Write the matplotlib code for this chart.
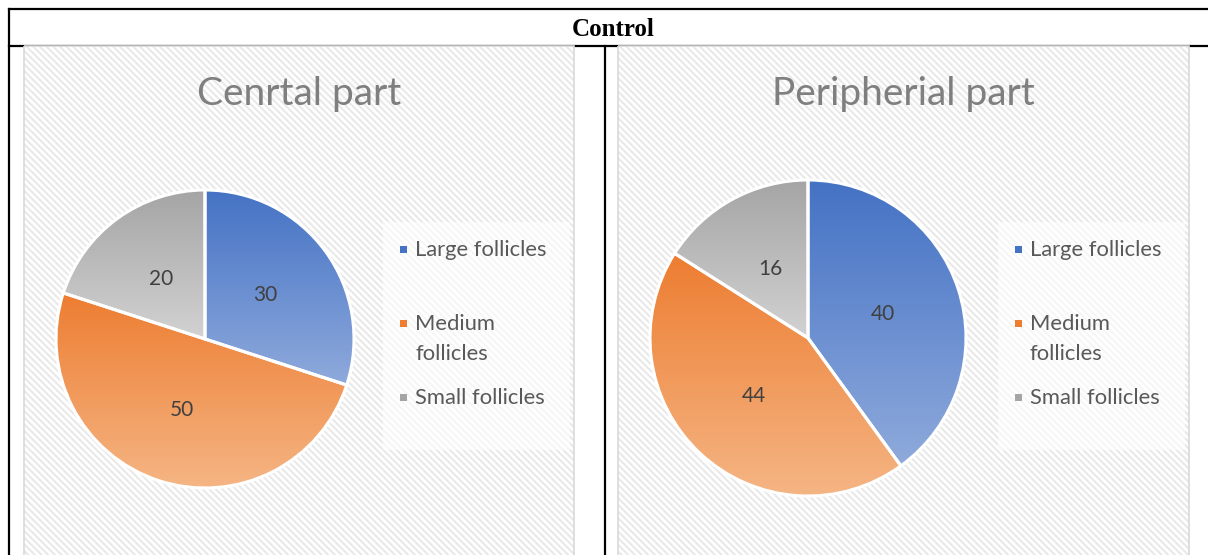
import numpy as np
import matplotlib
matplotlib.use("Agg")
import matplotlib.pyplot as plt
from matplotlib.patches import Rectangle
from matplotlib.colors import to_rgb

# data
categories = ["Large follicles", "Medium\nfollicles", "Small follicles"]
central = [30, 50, 20]
peripheral = [40, 44, 16]
titles = ["Cenrtal part", "Peripherial part"]
header = "Control"

top_colors = ["#4472C4", "#ED7D31", "#A5A5A5"]
bottom_colors = ["#8FAADC", "#F5B584", "#D2D2D2"]

W, H = 1208, 555
plt.rcParams["hatch.linewidth"] = 1.4
fig = plt.figure(figsize=(W / 100, H / 100), dpi=100)

bg = fig.add_axes([0, 0, 1, 1])
bg.set_xlim(0, W)
bg.set_ylim(H, 0)
bg.axis("off")

# table lines
lw = 1.6
bg.plot([9, W], [9, 9], color="black", lw=lw, zorder=1)
bg.plot([9, 9], [9, H], color="black", lw=lw, zorder=1)
bg.plot([9, W], [46, 46], color="black", lw=lw, zorder=1)
bg.plot([605, 605], [46, H], color="black", lw=lw, zorder=1)
bg.text(613, 29, header, ha="center", va="center", fontsize=18,
        fontweight="bold", family="Liberation Serif")

# chart areas
areas = [(24, 574), (618, 1189)]
for (x0, x1), t in zip(areas, titles):
    bg.add_patch(Rectangle((x0, 46), x1 - x0, 530, facecolor="white",
                           edgecolor="#e8e8e8", hatch="\\" * 5, lw=0, zorder=2))
    bg.add_patch(Rectangle((x0, 46), x1 - x0, 530, fill=False,
                           edgecolor="#d9d9d9", lw=1.2, zorder=3))
    bg.text((x0 + x1) / 2, 94, t, ha="center", va="center", fontsize=28,
            color="#7f7f7f", family="Lato", zorder=4)


def draw_pie(cx, cy, r, vals):
    pad = 12
    ax = fig.add_axes([(cx - r - pad) / W, (H - cy - r - pad) / H,
                       2 * (r + pad) / W, 2 * (r + pad) / H])
    total = sum(vals)
    wedges, texts, autotexts = ax.pie(
        vals, colors=top_colors, startangle=90, counterclock=False,
        autopct=lambda p: f"{p * total / 100:.0f}", pctdistance=0.5,
        wedgeprops=dict(edgecolor="white", linewidth=2.2),
        textprops=dict(fontsize=15, color="#404040", family="Lato"))
    for w, c0, c1 in zip(wedges, top_colors, bottom_colors):
        ext = w.get_path().get_extents()
        t = np.linspace(0, 1, 256)[:, None]
        img = (1 - t)[:, :, None] * np.array(to_rgb(c0)) + t[:, :, None] * np.array(to_rgb(c1))
        img = np.repeat(img, 2, axis=1)
        im = ax.imshow(img, extent=[ext.x0, ext.x1, ext.y0, ext.y1], origin="upper",
                       aspect="auto", zorder=w.get_zorder() - 0.5)
        im.set_clip_path(w)
        w.set_facecolor("none")
    lim = (r + pad) / r
    ax.set_xlim(-lim, lim)
    ax.set_ylim(-lim, lim)
    ax.axis("off")
    return ax


draw_pie(205, 339, 149, central)
draw_pie(808, 338, 158, peripheral)

# legends
rows = [249, 323, 397]
for lx, (x0, x1) in zip([383, 998], areas):
    bg.add_patch(Rectangle((lx, 222), 187, 228, facecolor="white", alpha=0.6,
                           lw=0, zorder=3))
    for y, lab, c0, c1 in zip(rows, categories, top_colors, bottom_colors):
        bg.add_patch(Rectangle((lx + 17, y - 3), 7, 7, facecolor=c0, lw=0, zorder=5))
        bg.text(lx + 32, y - 9, lab, ha="left", va="top", fontsize=15.8,
                color="#595959", family="Lato", linespacing=1.65, zorder=5)

fig.savefig("out.png", dpi=100)
